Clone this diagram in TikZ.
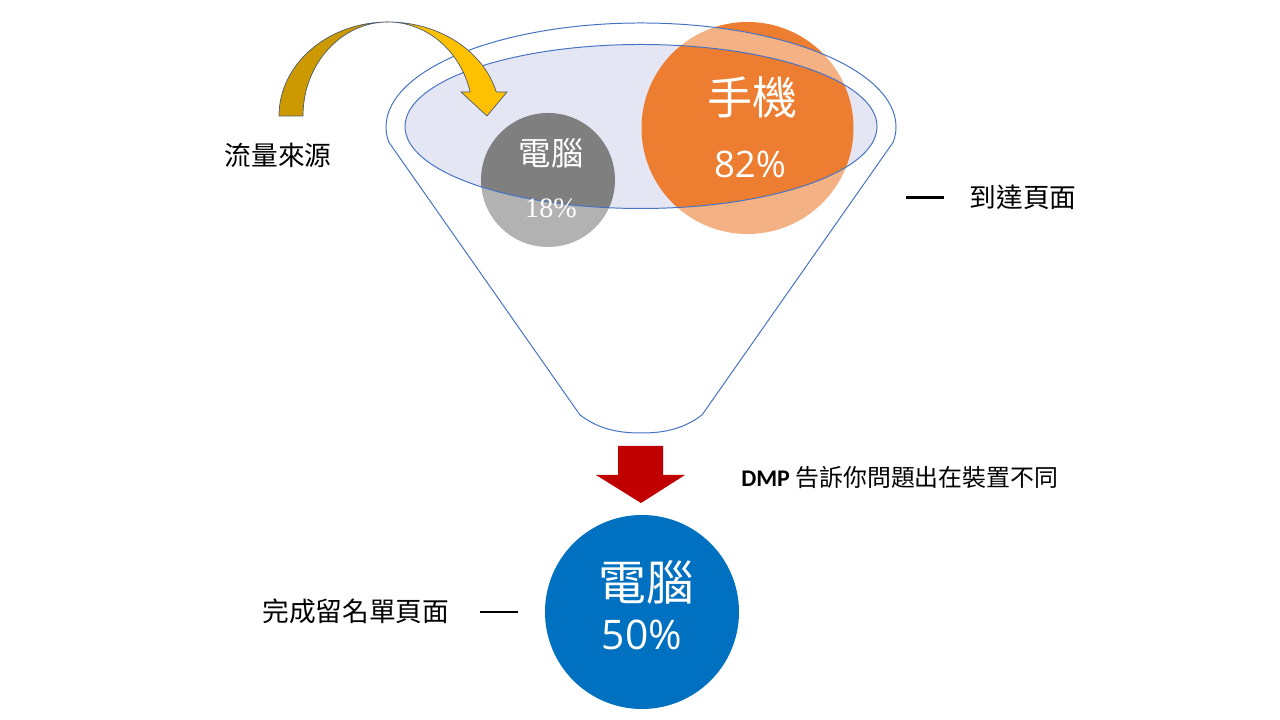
\documentclass[tikz,border=0pt]{standalone}
\usepackage{fontspec}
\setmainfont{Carlito}
\newfontfamily\cjk{Noto Sans CJK TC}
\newfontfamily\segoe{Open Sans}
\newfontfamily\ming{Liberation Serif}
\definecolor{funnelblue}{HTML}{4472C4}
\definecolor{lavender}{HTML}{E4E7F3}
\definecolor{pcgray}{HTML}{7F7F7F}
\definecolor{mobileorange}{HTML}{ED7D31}
\definecolor{darkgold}{HTML}{CC9A00}
\definecolor{gold}{HTML}{FFC000}
\definecolor{arrowedge}{HTML}{4A5A70}
\definecolor{dmpred}{HTML}{C00000}
\definecolor{doneblue}{HTML}{0070C0}
\newcommand\dashmark{\rule[0.32em]{27pt}{1.5pt}}

\begin{document}
\begin{tikzpicture}[
    x=0.025cm, y=0.025cm,
    every node/.style={inner sep=0pt, align=center},
    lbl/.style={font=\cjk\fontsize{19}{23}\selectfont},
    incircle/.style={text=white},
    funnel/.style={draw=funnelblue, line width=0.7pt},
    curvearrow/.style={draw=arrowedge, line width=0.5pt},
  ]
  \useasboundingbox (0,0) rectangle (1280,720);

  % === Funnel mouth and device circles ===
  \fill[lavender] (641,593.5) ellipse[x radius=236, y radius=82];
  \fill[pcgray] (548,540) circle[radius=67];
  \fill[mobileorange] (747.5,592) circle[radius=106];

  % === Funnel outline (veils the circles outside the mouth) ===
  \path[funnel, fill=white, fill opacity=0.4, even odd rule]
    (388.7,578) -- (580,305)
    .. controls (600,290) and (620,287) .. (641,287)
    .. controls (662,287) and (682,290) .. (702,305)
    -- (893.3,578) arc[start angle=-8.3, end angle=188.3, x radius=255, y radius=104] -- cycle
    (641,593.5) ellipse[x radius=236, y radius=82];

  % === Circle texts ===
  \node[incircle, font=\cjk\fontsize{32}{36}\selectfont] (mobiletxt) at (752,623) {手機};
  \node[incircle, font=\segoe\fontsize{26}{30}\selectfont] (mobilepct) at (750,556) {82\%};
  \node[incircle, font=\cjk\fontsize{23}{26}\selectfont] (pctxt) at (551,567) {電腦};
  \node[incircle, font=\ming\fontsize{20}{22}\selectfont] (pcpct) at (551,512) {18\%};

  % === Traffic arrow ===
  \path[curvearrow, fill=darkgold] (279,604)
    arc[start angle=180, end angle=90, x radius=109, y radius=94]
    arc[start angle=90, end angle=180, x radius=85, y radius=94] -- cycle;
  \path[curvearrow, fill=gold] (388,698)
    arc[start angle=90, end angle=14.8, x radius=112, y radius=94]
    -- (507,628) -- (487,604) -- (461,628) -- (470.2,628)
    arc[start angle=14.8, end angle=90, x radius=85, y radius=94] -- cycle;
  \node[lbl] (source) at (278,565) {流量來源};
  \node[lbl, anchor=west] (reach) at (906,523) {\dashmark\hspace{18pt}到達頁面};

  % === Down arrow and result ===
  \fill[dmpred] (618,274) -- (663,274) -- (663,245) -- (685,245)
    -- (641,217) -- (596,245) -- (618,245) -- cycle;
  \node[anchor=west, font=\fontsize{17}{20}\selectfont] (dmp) at (741,242)
    {\textbf{DMP} {\cjk 告訴你問題出在裝置不同}};

  \fill[doneblue] (642,108) circle[radius=97];
  \node[incircle, font=\cjk\fontsize{34}{38}\selectfont] (donetxt) at (646,138) {電腦};
  \node[incircle, font=\segoe\fontsize{29}{33}\selectfont] (donepct) at (642,85) {50\%};
  \node[lbl, anchor=west] (signup) at (262,109) {完成留名單頁面\hspace{22pt}\dashmark};

\end{tikzpicture}
\end{document}
